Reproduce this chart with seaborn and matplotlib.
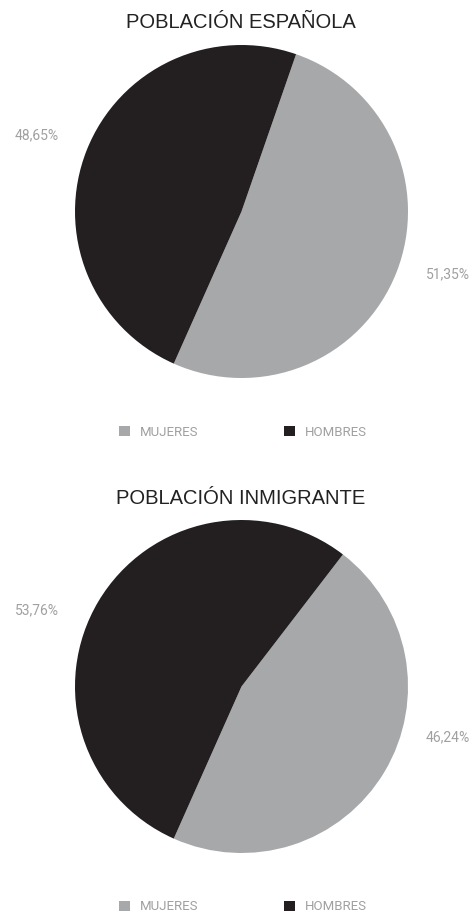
import matplotlib
matplotlib.use("Agg")
import matplotlib.pyplot as plt
from matplotlib.patches import Patch
import seaborn as sns

sns.set_style("white")

# ================================
# DATA
# ================================

titles = ["POBLACIÓN ESPAÑOLA", "POBLACIÓN INMIGRANTE"]
categories = ["MUJERES", "HOMBRES"]
mujeres_pct = [51.35, 46.24]
hombres_pct = [48.65, 53.76]

palette = ["#a7a8aa", "#231f20"]
label_color = "#a0a0a0"

W, H = 473, 915
fig = plt.figure(figsize=(W / 100, H / 100), dpi=100)

# pie centres (px from top) and radius
centres_y = [211.5, 686.5]
centre_x = 241.5
radius = 166.5
title_y = [23, 498]
legend_y = [432, 907]

# mujeres slice always ends at 204 deg clockwise from 12 o'clock
end_angle = 204


def fmt(v):
    return f"{v:.2f}".replace(".", ",") + "%"


for i, title in enumerate(titles):
    cy = centres_y[i]
    ax = fig.add_axes([
        (centre_x - radius) / W,
        1 - (cy + radius) / H,
        2 * radius / W,
        2 * radius / H,
    ])
    vals = [mujeres_pct[i], hombres_pct[i]]
    start = end_angle - vals[0] * 3.6
    ax.pie(
        vals,
        colors=palette,
        startangle=90 - start,
        counterclock=False,
        radius=1,
        wedgeprops=dict(linewidth=0),
    )
    ax.set_xlim(-1, 1)
    ax.set_ylim(-1, 1)
    ax.set_aspect("equal")
    ax.axis("off")

    # percentage labels (px positions converted to pie units)
    hy = (cy - [135, 610][i]) / radius
    my = (cy - [274, 737][i]) / radius
    ax.text((37 - centre_x) / radius, hy, fmt(hombres_pct[i]), ha="center",
            va="center", color=label_color, fontsize=10, family="Roboto",
            clip_on=False)
    ax.text((448 - centre_x) / radius, my, fmt(mujeres_pct[i]), ha="center",
            va="center", color=label_color, fontsize=10, family="Roboto",
            clip_on=False)

    fig.text(241 / W, 1 - title_y[i] / H, title, ha="center", va="center",
             fontsize=14.5, family="Liberation Sans", color="#222222")

    handles = [Patch(facecolor=c, edgecolor="none") for c in palette]
    leg = fig.legend(
        handles, categories, ncol=2, frameon=False,
        loc="center", bbox_to_anchor=(243 / W, 1 - legend_y[i] / H),
        handlelength=0.83, handleheight=0.83, handletextpad=0.75,
        columnspacing=6.5, borderpad=0, prop=dict(family="Roboto", size=9.5),
    )
    for t in leg.get_texts():
        t.set_color(label_color)

fig.savefig("out.png", dpi=100)
